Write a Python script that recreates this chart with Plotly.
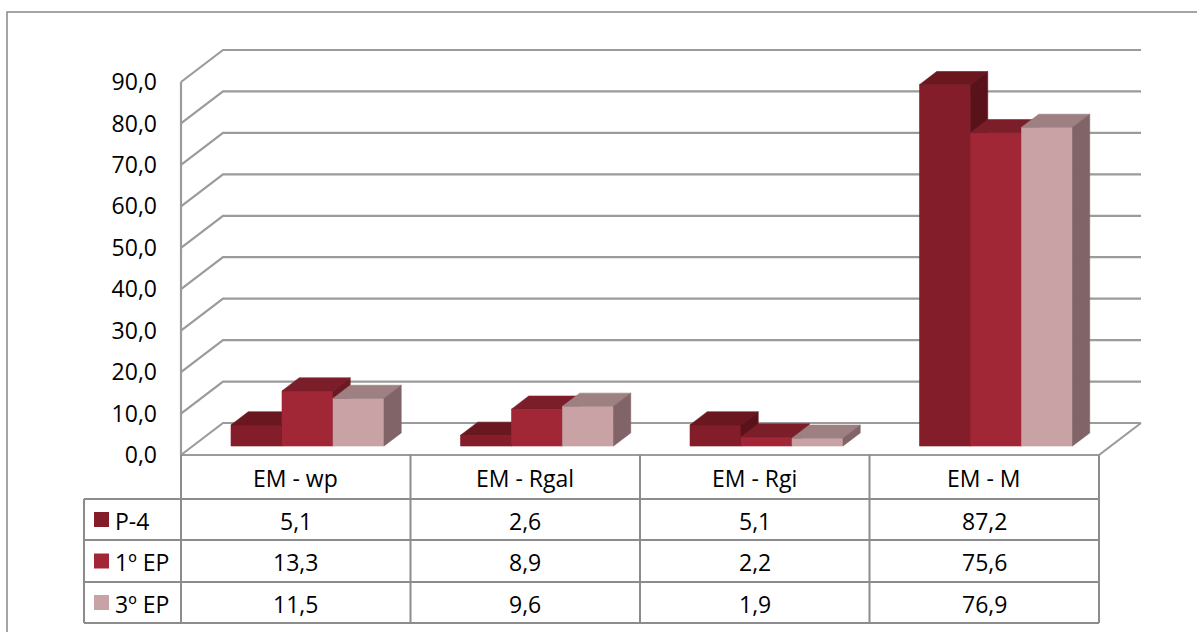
import plotly.graph_objects as go

# ---------------- data ----------------
categories = ["EM - wp", "EM - Rgal", "EM - Rgi", "EM - M"]
series_names = ["P-4", "1º EP", "3º EP"]
p4_values = [5.1, 2.6, 5.1, 87.2]
ep1_values = [13.3, 8.9, 2.2, 75.6]
ep3_values = [11.5, 9.6, 1.9, 76.9]
tick_values = [0, 10, 20, 30, 40, 50, 60, 70, 80, 90]
tick_labels = ["0,0", "10,0", "20,0", "30,0", "40,0", "50,0", "60,0", "70,0", "80,0", "90,0"]

series_values = [p4_values, ep1_values, ep3_values]
front_colors = ["#841d2a", "#a22736", "#c8a2a5"]
top_colors = ["#6a1720", "#7c1e29", "#9e8083"]
side_colors = ["#5a121a", "#6d1923", "#806467"]

# ---------------- geometry ----------------
W, H = 1197, 632
FRONT_LEFT_PX = 181          # front plane left edge
COL_PX = 229.5               # width of one category on the front plane
ZERO_PX = 455                # value 0 on the front plane
UNIT_PX = (455 - 82) / 90.0  # pixels per value unit
DEPTH_DX_PX, DEPTH_DY_PX = 42, 32

x_range = [-0.5 - FRONT_LEFT_PX / COL_PX, -0.5 + (W - FRONT_LEFT_PX) / COL_PX]
y_range = [-(H - ZERO_PX) / UNIT_PX, ZERO_PX / UNIT_PX]
DX = DEPTH_DX_PX / COL_PX
DY = DEPTH_DY_PX / UNIT_PX
n_cat = len(categories)
n_ser = len(series_names)
BAR_W = 0.2222
F0, DEPTH = 0.28, 0.41       # bar front depth fraction and bar depth fraction
GRID_COLOR = "#9b9b9b"
FONT = "Open Sans"
FSIZE = 23

fig = go.Figure()

# ---- walls / gridlines ----
gx, gy = [], []
left, right = -0.5, n_cat - 0.5
for v in tick_values:
    gx += [left, left + DX, right + DX, None]
    gy += [v, v + DY, v + DY, None]
# floor front and right edges, left front edge
gx += [left, right, right + DX, None, left, left, None]
gy += [0, 0, DY, None, 0, max(tick_values), None]
fig.add_trace(go.Scatter(x=gx, y=gy, mode="lines", line=dict(color=GRID_COLOR, width=2.2),
                         hoverinfo="skip", showlegend=False))

# ---- 3D bars ----
group_left = (1 - n_ser * BAR_W) / 2
for j, vals in enumerate(series_values):
    fx, fy, tx, ty, sx, sy = [], [], [], [], [], []
    for i, v in enumerate(vals):
        xl = i - 0.5 + group_left + j * BAR_W + F0 * DX
        xr = xl + BAR_W
        b = F0 * DY
        t = b + v
        ddx, ddy = DEPTH * DX, DEPTH * DY
        fx += [xl, xr, xr, xl, xl, None]
        fy += [b, b, t, t, b, None]
        tx += [xl, xr, xr + ddx, xl + ddx, xl, None]
        ty += [t, t, t + ddy, t + ddy, t, None]
        sx += [xr, xr + ddx, xr + ddx, xr, xr, None]
        sy += [b, b + ddy, t + ddy, t, b, None]
    for X, Y, c in [(fx, fy, front_colors[j]), (tx, ty, top_colors[j]), (sx, sy, side_colors[j])]:
        fig.add_trace(go.Scatter(x=X, y=Y, mode="lines", fill="toself", fillcolor=c,
                                 line=dict(color=c, width=0.6), hoverinfo="skip",
                                 showlegend=False, name=series_names[j]))

# ---- data table ----
def py(px):
    return 1 - px / H

def pxx(px):
    return px / W

TABLE_COLOR = "#8c8c8c"
row_bounds = [455, 499, 540, 582, 623]
label_left_px = 84
shapes = []
# vertical column lines
for k in range(n_cat + 1):
    shapes.append(dict(type="line", xref="x", yref="paper", x0=k - 0.5, x1=k - 0.5,
                       y0=py(row_bounds[0]), y1=py(row_bounds[-1]),
                       line=dict(color=TABLE_COLOR, width=2)))
# horizontal row lines
for r in row_bounds[1:]:
    shapes.append(dict(type="line", xref="paper", yref="paper", x0=pxx(label_left_px),
                       x1=pxx(FRONT_LEFT_PX + n_cat * COL_PX), y0=py(r), y1=py(r),
                       line=dict(color=TABLE_COLOR, width=2)))
shapes.append(dict(type="line", xref="paper", yref="paper", x0=pxx(label_left_px),
                   x1=pxx(label_left_px), y0=py(row_bounds[1]), y1=py(row_bounds[-1]),
                   line=dict(color=TABLE_COLOR, width=2)))
# outer chart border
shapes.append(dict(type="rect", xref="paper", yref="paper", x0=pxx(7), x1=1.02,
                   y0=-0.02, y1=py(12), line=dict(color="#888888", width=1.5),
                   fillcolor="rgba(0,0,0,0)", layer="below"))

annotations = []
for i, c in enumerate(categories):
    annotations.append(dict(xref="x", yref="paper", x=i, y=py((row_bounds[0] + row_bounds[1]) / 2 + 1),
                            text=c, showarrow=False, xanchor="center", yanchor="middle",
                            font=dict(family=FONT, size=FSIZE, color="#000000")))
for j, name in enumerate(series_names):
    yc = (row_bounds[j + 1] + row_bounds[j + 2]) / 2
    shapes.append(dict(type="rect", xref="paper", yref="paper", x0=pxx(94), x1=pxx(109),
                       y0=py(yc + 7.5), y1=py(yc - 7.5), fillcolor=front_colors[j],
                       line=dict(width=0)))
    annotations.append(dict(xref="paper", yref="paper", x=pxx(113), y=py(yc + 1), text=name,
                            showarrow=False, xanchor="left", yanchor="middle",
                            font=dict(family=FONT, size=FSIZE, color="#000000")))
    for i, v in enumerate(series_values[j]):
        annotations.append(dict(xref="x", yref="paper", x=i, y=py(yc + 1),
                                text=f"{v:.1f}".replace(".", ","), showarrow=False,
                                xanchor="center", yanchor="middle",
                                font=dict(family=FONT, size=FSIZE, color="#000000")))

fig.update_layout(
    width=W, height=H, margin=dict(l=0, r=0, t=0, b=0, pad=0),
    paper_bgcolor="white", plot_bgcolor="white",
    xaxis=dict(range=x_range, domain=[0, 1], visible=False, fixedrange=True),
    yaxis=dict(range=y_range, domain=[0, 1], tickvals=tick_values, ticktext=tick_labels,
               showgrid=False, zeroline=False, showline=False, ticks="",
               anchor="free", position=FRONT_LEFT_PX / W, ticklabelstandoff=24,
               tickfont=dict(family=FONT, size=FSIZE, color="#000000"), fixedrange=True),
    shapes=shapes, annotations=annotations, showlegend=False,
)

fig.write_html("out.html")
